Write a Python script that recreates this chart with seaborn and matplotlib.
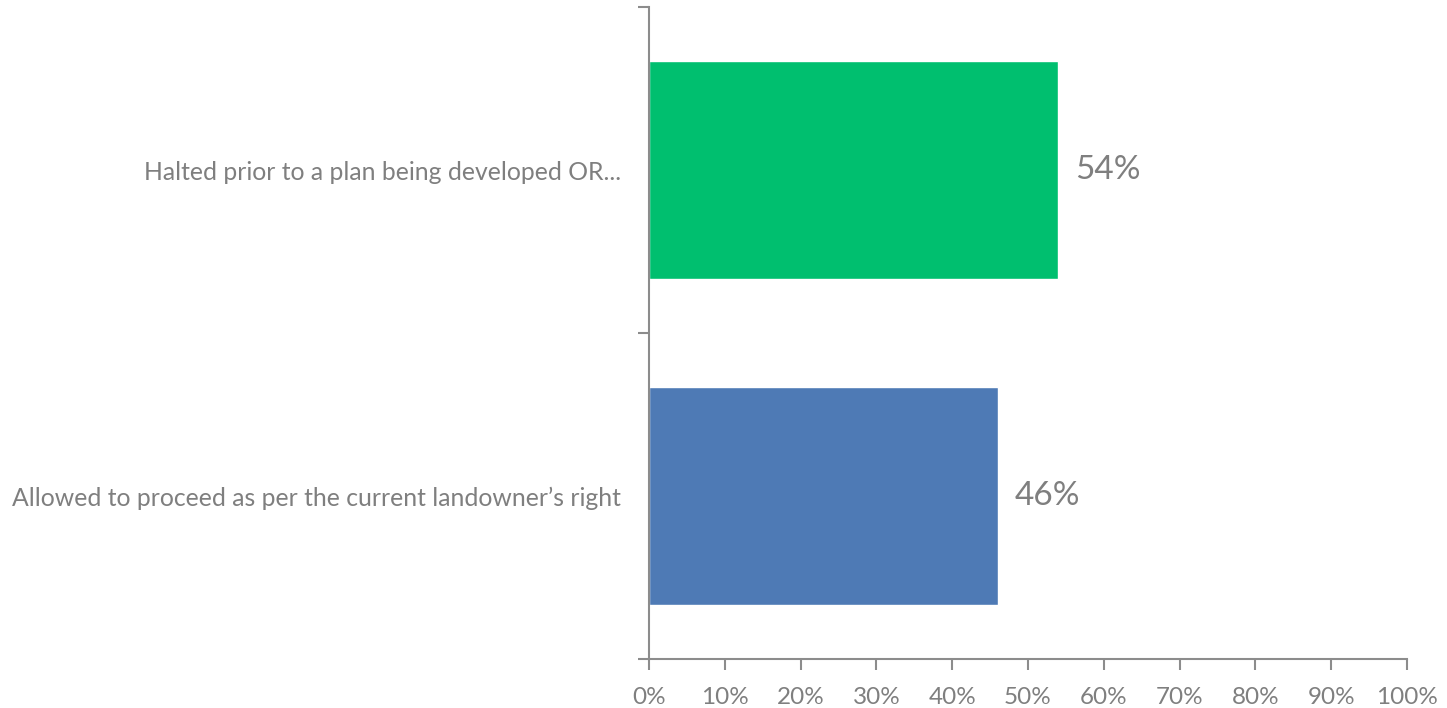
import matplotlib
matplotlib.use("Agg")
import matplotlib.pyplot as plt
import seaborn as sns
import pandas as pd
from matplotlib.ticker import PercentFormatter

categories = ["Halted prior to a plan being developed OR...",
              "Allowed to proceed as per the current landowner\u2019s right"]
values = [54, 46]
colors = ["#00BF6F", "#4E7AB5"]
xticks = list(range(0, 101, 10))

sns.set_theme(style="white")
plt.rcParams['font.family'] = ['Lato', 'DejaVu Sans']

df = pd.DataFrame({"cat": categories, "val": values})

fig = plt.figure(figsize=(14.47, 7.08), dpi=100)
ax = fig.add_axes([649/1447, 1-659/708, (1407-649)/1447, (659-7)/708])

sns.barplot(data=df, y="cat", x="val", hue="cat", palette=colors, orient="h",
            width=0.666, legend=False, ax=ax, saturation=1)

grey = "#7F7F7F"
axis_c = "#8C8C8C"
ax.set_xlim(0, 100)
ax.set_ylim(1.5, -0.5)
ax.set_xticks(xticks)
ax.xaxis.set_major_formatter(PercentFormatter(decimals=0))
ax.set_xlabel("")
ax.set_ylabel("")

for s in ["top", "right"]:
    ax.spines[s].set_visible(False)
for s in ["left", "bottom"]:
    ax.spines[s].set_color(axis_c)
    ax.spines[s].set_linewidth(1.5)

ax.tick_params(axis="x", which="major", length=8, width=1.5, color=axis_c,
               labelsize=17.5, labelcolor=grey, pad=12, direction="out", bottom=True)
ax.tick_params(axis="y", which="major", length=0, labelsize=17.8, labelcolor=grey, pad=20)
ax.set_yticks([-0.5, 0.5, 1.5], minor=True)
ax.tick_params(axis="y", which="minor", length=8, width=1.5, color=axis_c, left=True, direction="out")

for c in ax.containers:
    ax.bar_label(c, labels=[f"{v:.0f}%" for v in c.datavalues], padding=12,
                 fontsize=24, color=grey)

fig.savefig("out.png", dpi=100)
